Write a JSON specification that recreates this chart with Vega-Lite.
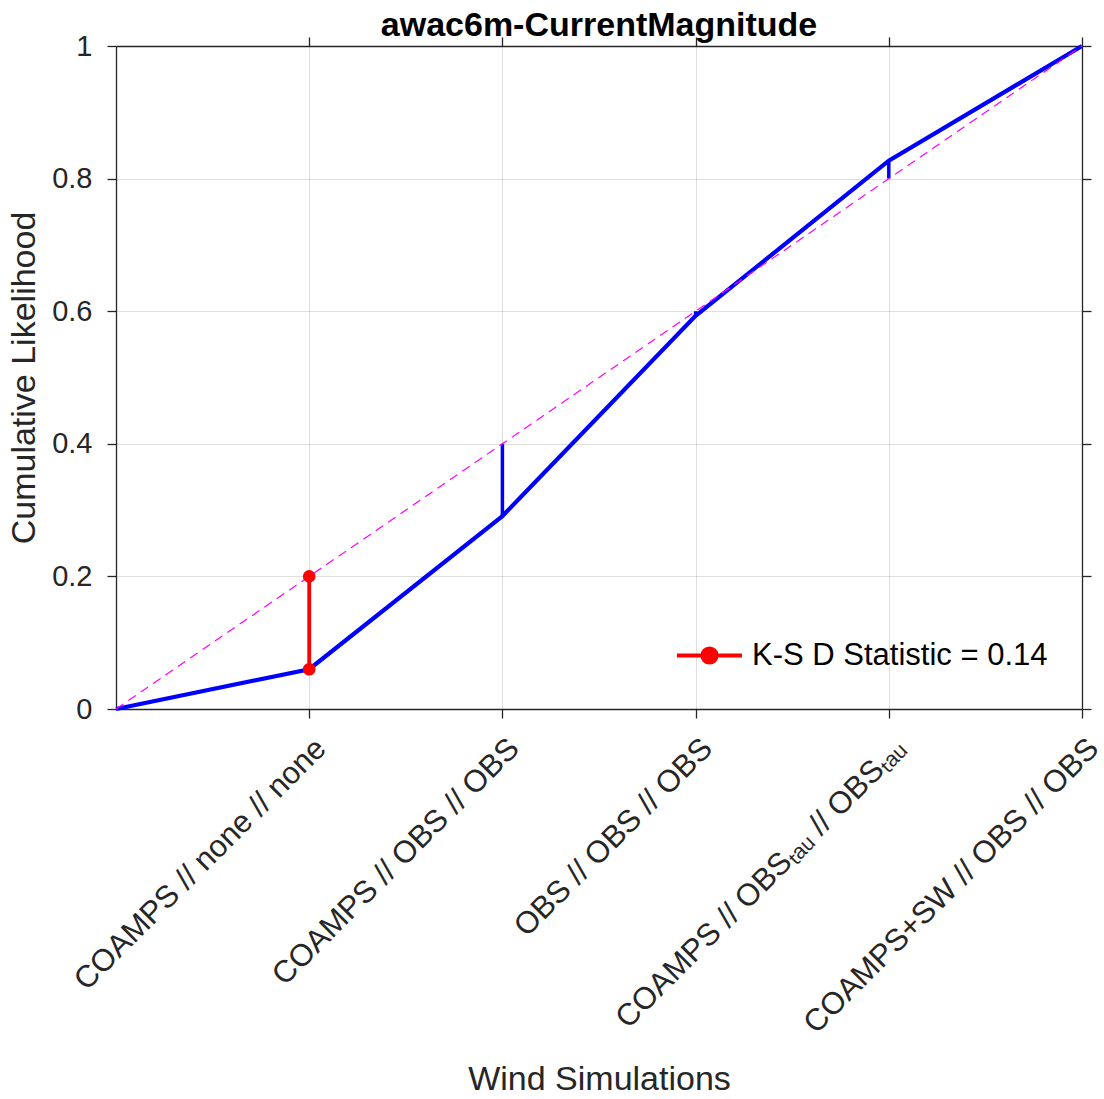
{
  "$schema": "https://vega.github.io/schema/vega-lite/v6.json",
  "width": 966,
  "height": 663,
  "autosize": {"type": "none"},
  "padding": {"left": 116, "top": 46, "right": 22, "bottom": 390},
  "background": "white",
  "view": {"stroke": null},
  "config": {
    "font": "Liberation Sans",
    "axis": {
      "domainColor": "#262626",
      "domainWidth": 1.3,
      "tickColor": "#262626",
      "tickWidth": 1.3,
      "tickSize": 9,
      "gridColor": "#262626",
      "gridOpacity": 0.15,
      "gridWidth": 1,
      "labelColor": "#262626",
      "labelFont": "Liberation Sans",
      "labelFontSize": 29,
      "titleColor": "#262626",
      "titleFont": "Liberation Sans",
      "titleFontSize": 34,
      "titleFontWeight": "normal"
    }
  },
  "title": {
    "text": "awac6m-CurrentMagnitude",
    "font": "Liberation Sans",
    "fontSize": 34,
    "fontWeight": "bold",
    "color": "#000000",
    "anchor": "middle",
    "offset": -11
  },
  "datasets": {
    "diag": [
      {"sim": 0, "p": 0},
      {"sim": 5, "p": 1}
    ],
    "cdf": [
      {"sim": 0, "p": 0},
      {"sim": 1, "p": 0.06},
      {"sim": 2, "p": 0.291},
      {"sim": 3, "p": 0.593},
      {"sim": 4, "p": 0.827},
      {"sim": 5, "p": 1}
    ],
    "gaps": [
      {"sim": 2, "lo": 0.291, "hi": 0.4},
      {"sim": 3, "lo": 0.593, "hi": 0.6},
      {"sim": 4, "lo": 0.8, "hi": 0.827}
    ],
    "ks": [
      {"sim": 1, "lo": 0.06, "hi": 0.2, "stat": "K-S D Statistic = 0.14"}
    ],
    "ksEnds": [
      {"sim": 1, "p": 0.06},
      {"sim": 1, "p": 0.2}
    ]
  },
  "resolve": {"axis": {"x": "independent", "y": "independent"}},
  "layer": [
    {
      "data": {"name": "cdf"},
      "mark": {"type": "line", "color": "#0000ff", "strokeWidth": 4.2},
      "encoding": {
        "x": {
          "field": "sim",
          "type": "quantitative",
          "scale": {"domain": [0, 5], "nice": false, "zero": false},
          "axis": {
            "orient": "bottom",
            "values": [1, 2, 3, 4, 5],
            "title": "Wind Simulations",
            "titlePadding": 153,
            "labelAngle": -45,
            "labelAlign": "right",
            "labelBaseline": "top",
            "labelFontSize": 31,
            "labelPadding": 15,
            "labelOffset": 1,
            "labelLimit": 0,
            "labelOverlap": false,
            "labelExpr": "['', 'COAMPS // none // none', 'COAMPS // OBS // OBS', 'OBS // OBS // OBS', 'COAMPS // OBSₜₐᵤ // OBSₜₐᵤ', 'COAMPS+SW // OBS // OBS'][datum.value]"
          }
        },
        "y": {
          "field": "p",
          "type": "quantitative",
          "scale": {"domain": [0, 1], "nice": false},
          "axis": {
            "orient": "left",
            "values": [0, 0.2, 0.4, 0.6, 0.8, 1],
            "format": "~g",
            "title": "Cumulative Likelihood",
            "titlePadding": 10,
            "labelPadding": 15
          }
        }
      }
    },
    {
      "data": {"name": "cdf"},
      "mark": {"type": "line", "opacity": 0},
      "encoding": {
        "x": {
          "field": "sim",
          "type": "quantitative",
          "axis": {"orient": "top", "values": [1, 2, 3, 4, 5], "labels": false, "title": null, "grid": false}
        },
        "y": {
          "field": "p",
          "type": "quantitative",
          "axis": {"orient": "right", "values": [0, 0.2, 0.4, 0.6, 0.8, 1], "labels": false, "title": null, "grid": false}
        }
      }
    },
    {
      "data": {"name": "gaps"},
      "mark": {"type": "rule", "color": "#0000ff", "strokeWidth": 3.5},
      "encoding": {
        "x": {"field": "sim", "type": "quantitative", "axis": null},
        "y": {"field": "lo", "type": "quantitative", "axis": null},
        "y2": {"field": "hi"}
      }
    },
    {
      "data": {"name": "diag"},
      "mark": {"type": "line", "color": "#ff00ff", "strokeWidth": 1.2, "strokeDash": [9, 6]},
      "encoding": {
        "x": {"field": "sim", "type": "quantitative", "axis": null},
        "y": {"field": "p", "type": "quantitative", "axis": null}
      }
    },
    {
      "data": {"name": "ks"},
      "mark": {"type": "rule", "strokeWidth": 3.8},
      "encoding": {
        "x": {"field": "sim", "type": "quantitative", "axis": null},
        "y": {"field": "lo", "type": "quantitative", "axis": null},
        "y2": {"field": "hi"},
        "color": {
          "field": "stat",
          "type": "nominal",
          "scale": {"range": ["#ff0000"]},
          "legend": {
            "title": null,
            "orient": "none",
            "legendX": 559,
            "legendY": 575,
            "padding": 0,
            "symbolType": "M-1,0L1,0M0.22,0A0.22,0.22 0 1,1 -0.22,0A0.22,0.22 0 1,1 0.22,0Z",
            "symbolSize": 4225,
            "symbolStrokeWidth": 3.8,
            "labelFont": "Liberation Sans",
            "labelFontSize": 31,
            "labelColor": "#000000",
            "labelOffset": 8,
            "labelLimit": 0,
            "encode": {
              "symbols": {"update": {"fill": {"value": "#ff0000"}, "stroke": {"value": "#ff0000"}, "opacity": {"value": 1}}}
            }
          }
        }
      }
    },
    {
      "data": {"name": "ksEnds"},
      "mark": {"type": "point", "filled": true, "shape": "circle", "size": 160, "color": "#ff0000", "opacity": 1},
      "encoding": {
        "x": {"field": "sim", "type": "quantitative", "axis": null},
        "y": {"field": "p", "type": "quantitative", "axis": null}
      }
    }
  ]
}
